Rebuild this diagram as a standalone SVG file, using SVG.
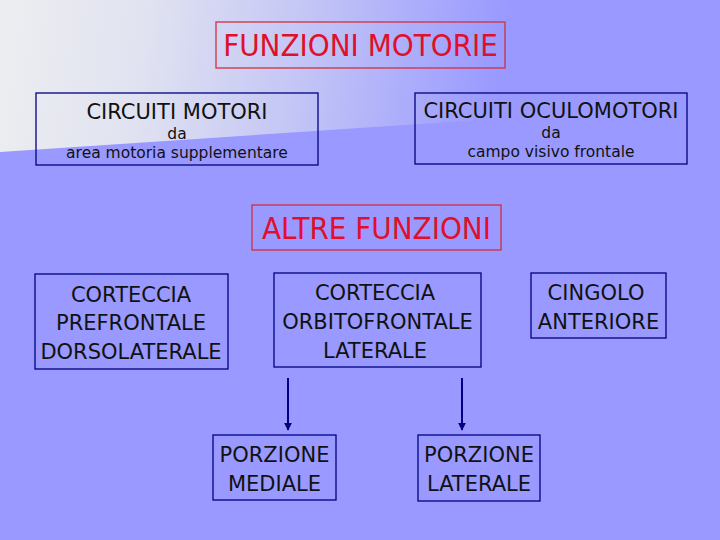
<svg xmlns="http://www.w3.org/2000/svg" width="720" height="540" viewBox="0 0 720 540">
<defs>
<linearGradient id="sw" x1="0" y1="0" x2="500" y2="70" gradientUnits="userSpaceOnUse">
<stop offset="0" stop-color="#EDEEF0"/>
<stop offset="0.3" stop-color="#E0E2F1"/>
<stop offset="0.62" stop-color="#C2C4F6"/>
<stop offset="1" stop-color="#9999FF"/>
</linearGradient>
<marker id="ah" viewBox="0 0 10 10" refX="9" refY="5" markerWidth="4" markerHeight="4" orient="auto">
<path d="M0,0 L10,5 L0,10 z" fill="#000080"/>
</marker>
</defs>
<style>
.box{fill:none;stroke:#000080;stroke-width:1.3}
.rbox{fill:none;stroke:#D03040;stroke-width:1.3}
.t{font-family:"DejaVu Sans","Open Sans",sans-serif;fill:#111;text-anchor:middle}
.big{font-size:21px}
.sm{font-size:15.5px}
.red{font-family:"DejaVu Sans Condensed","DejaVu Sans",sans-serif;font-stretch:condensed;fill:#E0102A;text-anchor:middle;font-size:31px}
.ln{stroke:#000080;stroke-width:2;fill:none}
</style>
<rect width="720" height="540" fill="#9999FF"/>
<polygon points="0,0 720,0 720,104 0,152" fill="url(#sw)"/>
<g id="funzioni-motorie">
<rect class="rbox" x="216" y="22" width="289" height="46"/>
<text class="red" x="360.5" y="56">FUNZIONI MOTORIE</text>
</g>
<g id="circuiti-motori">
<rect class="box" x="36" y="93" width="282" height="72"/>
<text class="t big" x="177" y="119">CIRCUITI MOTORI</text>
<text class="t sm" x="177" y="139">da</text>
<text class="t sm" x="177" y="158">area motoria supplementare</text>
</g>
<g id="circuiti-oculomotori">
<rect class="box" x="415" y="93" width="272" height="71"/>
<text class="t big" x="551" y="118">CIRCUITI OCULOMOTORI</text>
<text class="t sm" x="551" y="138">da</text>
<text class="t sm" x="551" y="157">campo visivo frontale</text>
</g>
<g id="altre-funzioni">
<rect class="rbox" x="252" y="205" width="249" height="45"/>
<text class="red" x="376.5" y="239">ALTRE FUNZIONI</text>
</g>
<g id="prefrontale">
<rect class="box" x="35" y="274" width="193" height="95"/>
<text class="t big" x="131" y="302">CORTECCIA</text>
<text class="t big" x="131" y="330">PREFRONTALE</text>
<text class="t big" x="131" y="359">DORSOLATERALE</text>
</g>
<g id="orbitofrontale">
<rect class="box" x="274" y="273" width="207" height="94"/>
<text class="t big" x="375" y="300">CORTECCIA</text>
<text class="t big" x="377.5" y="329">ORBITOFRONTALE</text>
<text class="t big" x="375" y="358">LATERALE</text>
</g>
<g id="cingolo">
<rect class="box" x="531" y="273" width="135" height="65"/>
<text class="t big" x="596" y="300">CINGOLO</text>
<text class="t big" x="598.5" y="329">ANTERIORE</text>
</g>
<g id="porzione-mediale">
<rect class="box" x="213" y="435" width="123" height="65"/>
<text class="t big" x="274.5" y="462">PORZIONE</text>
<text class="t big" x="274.5" y="491">MEDIALE</text>
</g>
<g id="porzione-laterale">
<rect class="box" x="418" y="435" width="122" height="66"/>
<text class="t big" x="479" y="462">PORZIONE</text>
<text class="t big" x="479" y="491">LATERALE</text>
</g>
<g id="connectors">
<line class="ln" x1="288" y1="378" x2="288" y2="430" marker-end="url(#ah)"/>
<line class="ln" x1="462" y1="378" x2="462" y2="430" marker-end="url(#ah)"/>
</g>
</svg>
